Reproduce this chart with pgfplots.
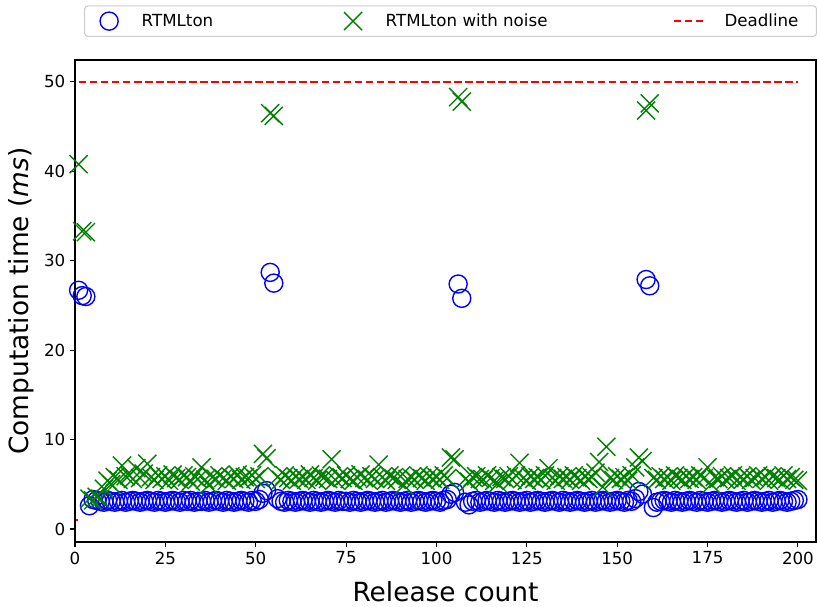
\documentclass[border=0pt]{standalone}
\usepackage{fontspec}
\setmainfont{DejaVu Sans}
\usepackage{pgfplots}
\pgfplotsset{compat=1.18}
\usepackage{pgfplotstable}
\definecolor{mblue}{rgb}{0,0,1}
\definecolor{mgreen}{rgb}{0,0.5,0}
\definecolor{mred}{rgb}{1,0,0}
\definecolor{lgray}{gray}{0.8}

\pgfplotstableread{
x b g
1 26.7 40.8
2 26.1 33.3
3 26.0 33.2
4 2.6 3.4
5 3.3 3.2
6 3.2 3.6
7 3.1 3.4
8 3.0 4.5
9 3.2 5.4
10 3.1 5.0
11 3.0 5.8
12 3.1 5.5
13 3.2 7.1
14 3.0 5.9
15 3.1 6.0
16 3.2 5.6
17 3.1 6.8
18 3.0 5.7
19 3.1 6.2
20 3.2 7.3
21 3.1 5.8
22 3.0 5.5
23 3.2 6.0
24 3.1 5.6
25 3.0 5.9
26 3.1 5.4
27 3.2 6.1
28 3.1 5.7
29 3.0 5.5
30 3.2 6.0
31 3.1 5.8
32 3.2 5.3
33 3.0 5.9
34 3.1 5.6
35 3.1 6.9
36 3.2 5.5
37 3.0 4.9
38 3.1 5.8
39 3.2 5.6
40 3.1 6.0
41 3.0 5.7
42 3.2 5.4
43 3.1 5.9
44 3.0 5.6
45 3.1 6.1
46 3.2 5.5
47 3.1 5.8
48 3.0 5.7
49 3.2 6.0
50 3.1 5.6
51 3.3 5.9
52 4.0 8.4
53 4.3 7.9
54 28.7 46.5
55 27.5 46.2
56 3.4 5.8
57 3.1 5.5
58 3.0 6.0
59 3.2 5.7
60 3.1 5.4
61 3.0 5.9
62 3.1 5.6
63 3.2 5.8
64 3.1 5.5
65 3.0 6.1
66 3.2 5.7
67 3.1 5.4
68 3.0 6.0
69 3.1 5.8
70 3.2 5.6
71 3.1 7.8
72 3.0 5.5
73 3.2 5.9
74 3.1 5.7
75 3.1 6.0
76 3.0 5.6
77 3.2 5.4
78 3.1 5.8
79 3.0 6.1
80 3.1 5.7
81 3.2 5.5
82 3.1 5.9
83 3.0 5.6
84 3.1 7.2
85 3.2 5.8
86 3.0 5.4
87 3.1 6.0
88 3.2 5.7
89 3.1 5.5
90 3.0 5.9
91 3.1 4.9
92 3.2 5.6
93 3.0 5.8
94 3.1 5.5
95 3.2 6.0
96 3.1 5.7
97 3.0 5.4
98 3.1 5.9
99 3.2 5.6
100 3.1 5.8
101 3.0 5.5
102 3.2 6.0
103 3.3 5.7
104 3.9 8.0
105 4.1 7.8
106 27.4 48.3
107 25.8 47.8
108 3.0 5.6
109 2.7 5.3
110 3.1 5.8
111 3.2 5.9
112 3.0 5.6
113 3.1 5.5
114 3.2 6.0
115 3.1 5.7
116 3.0 5.4
117 3.2 5.1
118 3.1 5.8
119 3.0 5.6
120 3.1 5.9
121 3.2 5.5
122 3.1 6.0
123 3.0 7.4
124 3.1 5.7
125 3.2 5.4
126 3.0 5.9
127 3.1 5.6
128 3.2 5.8
129 3.1 5.5
130 3.0 6.0
131 3.1 6.8
132 3.2 5.7
133 3.1 5.4
134 3.0 5.9
135 3.2 5.6
136 3.1 5.8
137 3.0 5.5
138 3.1 6.0
139 3.2 5.7
140 3.1 5.4
141 3.0 5.9
142 3.1 5.6
143 3.2 5.8
144 3.0 6.3
145 3.1 7.5
146 3.2 4.7
147 3.1 9.2
148 3.0 5.7
149 3.1 5.5
150 3.2 5.9
151 3.1 5.6
152 3.0 5.8
153 3.2 5.4
154 3.1 6.0
155 3.4 6.9
156 4.2 8.0
157 3.9 7.6
158 27.9 46.8
159 27.2 47.6
160 2.4 5.7
161 3.0 5.5
162 3.1 5.9
163 3.2 5.6
164 3.1 5.8
165 3.0 5.4
166 3.2 6.0
167 3.1 5.7
168 3.0 5.5
169 3.1 5.9
170 3.2 5.6
171 3.1 5.8
172 3.0 5.5
173 3.2 6.0
174 3.1 5.7
175 3.0 6.9
176 3.1 5.0
177 3.2 5.8
178 3.1 5.6
179 3.0 5.9
180 3.1 5.5
181 3.2 5.7
182 3.1 6.0
183 3.0 5.4
184 3.1 5.8
185 3.2 5.6
186 3.0 5.9
187 3.1 5.5
188 3.2 5.7
189 3.1 6.0
190 3.0 5.6
191 3.1 5.8
192 3.2 5.4
193 3.0 5.9
194 3.1 5.7
195 3.2 5.5
196 3.1 6.0
197 3.0 5.6
198 3.1 5.8
199 3.2 5.5
200 3.3 5.4
}\data

\begin{document}
\begin{tikzpicture}
\begin{axis}[
  scale only axis,
  width=533.52pt, height=347.04pt,
  xmin=0, xmax=205, ymin=-1.45, ymax=52.45,
  xtick={0,25,...,200}, ytick={0,10,...,50},
  tick pos=left, tick align=outside,
  major tick length=3.5pt,
  every tick/.style={black, line width=0.8pt},
  axis line style={black, line width=0.8pt},
  axis on top,
  /pgf/number format/assume math mode=true,
  tick label style={font=\fontsize{12}{14}\selectfont},
  xlabel={Release count},
  ylabel={Computation time (\textit{ms})},
  label style={font=\fontsize{19}{22}\selectfont},
  xlabel style={at={(axis description cs:0.5,0)}, anchor=base, yshift=-42.5pt},
  ylabel style={at={(axis description cs:-0.0625,0.5)}, anchor=base},
  legend columns=3,
  legend style={
    at={(axis description cs:0.01218,1.0478)}, anchor=south west,
    draw=lgray, line width=0.8pt, rounded corners=2.4pt,
    fill=white, fill opacity=0.8, text opacity=1,
    inner xsep=5.4pt, inner ysep=4.5pt,
    font=\fontsize{12}{14}\selectfont,
    nodes={inner sep=0pt},
    /tikz/column 1/.style={column sep=11.2pt},
    /tikz/column 2/.style={column sep=88.4pt},
    /tikz/column 3/.style={column sep=11.2pt},
    /tikz/column 4/.style={column sep=90pt},
    /tikz/column 5/.style={column sep=12.2pt},
  },
  legend cell align=left,
]
\coordinate (sw) at (rel axis cs:0,0);
\coordinate (ne) at (rel axis cs:1,1);
\addplot[only marks, mark=o, mark size=6.5pt, mark options={mblue, line width=1pt},
  legend image code/.code={\path (0pt,0pt) (23.76pt,0pt); \draw[mark repeat=2,mark phase=2] plot coordinates {(0pt,0pt)(11.88pt,0pt)(23.76pt,0pt)};}]
  table[x=x, y=b] {\data};
\addlegendentry{RTMLton}
\addplot[only marks, mark=x, mark size=9.2pt, mark options={mgreen, line width=1pt},
  legend image code/.code={\path (0pt,0pt) (23.76pt,0pt); \draw[mark repeat=2,mark phase=2] plot coordinates {(0pt,0pt)(11.88pt,0pt)(23.76pt,0pt)};}]
  table[x=x, y=g] {\data};
\addlegendentry{RTMLton with noise}
\addplot[mred, line width=1.5pt, dash pattern=on 5.55pt off 2.4pt,
  legend image code/.code={\draw (0pt,0pt) -- (23.76pt,0pt);}]
  coordinates {(1,50) (200,50)};
\addlegendentry{Deadline\hspace*{7.6pt}}
\addplot[mred, line width=1.5pt, forget plot] coordinates {(0,1) (0.9,1)};
\end{axis}
\pgfresetboundingbox
\useasboundingbox ([shift={(-54pt,-46.08pt)}]sw) rectangle ([shift={(0.72pt,43.2pt)}]ne);
\end{tikzpicture}
\end{document}
